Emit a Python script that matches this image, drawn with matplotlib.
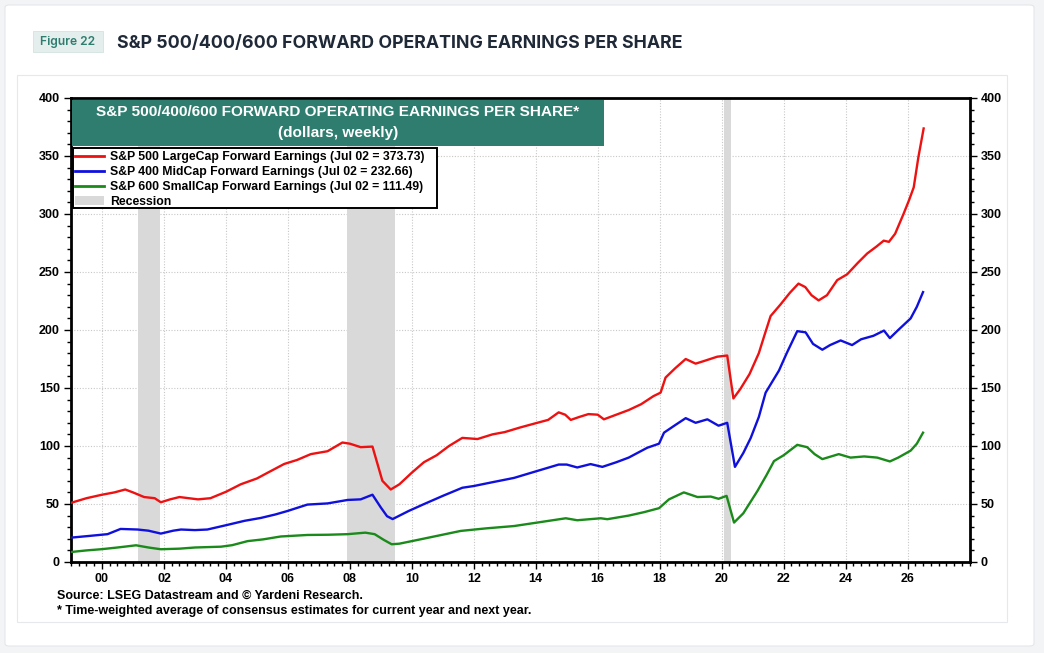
import matplotlib
matplotlib.use('Agg')
import matplotlib.pyplot as plt
from matplotlib.patches import Rectangle, FancyBboxPatch, Patch
from matplotlib.lines import Line2D
from matplotlib.ticker import MultipleLocator, FixedLocator

# S&P 500 LargeCap forward earnings (year, dollars)
sp500_years = [1999.0, 1999.5, 2000.0, 2000.4, 2000.75, 2001.0, 2001.36, 2001.7, 2001.9, 2002.2,
               2002.5, 2002.8, 2003.1, 2003.5, 2004.0, 2004.48, 2005.0, 2005.35, 2005.88, 2006.3,
               2006.74, 2007.28, 2007.76, 2008.0, 2008.35, 2008.73, 2009.05, 2009.32, 2009.6, 2010.0,
               2010.39, 2010.8, 2011.2, 2011.63, 2012.12, 2012.6, 2013.0, 2013.5, 2014.05, 2014.4,
               2014.74, 2014.95, 2015.13, 2015.4, 2015.7, 2016.0, 2016.2, 2016.6, 2017.0, 2017.4,
               2017.8, 2018.03, 2018.19, 2018.5, 2018.84, 2019.16, 2019.4, 2019.86, 2020.18, 2020.38,
               2020.6, 2020.9, 2021.2, 2021.4, 2021.58, 2021.9, 2022.2, 2022.48, 2022.7, 2022.9,
               2023.13, 2023.4, 2023.73, 2024.05, 2024.4, 2024.7, 2025.0, 2025.23, 2025.4, 2025.6,
               2025.87, 2026.05, 2026.2, 2026.35, 2026.52]
sp500_values = [51, 55, 58, 60, 62.5, 60, 56, 55, 51.5, 54,
                56, 55, 54, 55, 60.5, 67, 72, 77, 84.5, 88,
                93, 95.5, 103, 102, 99, 99.5, 70, 62.5, 67, 77,
                86, 92, 100, 107, 106, 110, 112, 116, 120, 122.5,
                129, 127, 122.5, 125, 127.5, 127, 123, 127, 131, 136,
                143, 146, 159, 167, 175, 171, 173, 177, 178, 141,
                149, 162, 180, 197, 212, 222, 232, 240, 237, 230,
                225.5, 230, 243, 248, 258, 266, 272, 277, 276, 283,
                300, 312, 323, 349, 373.73]

# S&P 400 MidCap forward earnings
sp400_years = [1999.0, 1999.6, 2000.18, 2000.6, 2001.15, 2001.5, 2001.9, 2002.3, 2002.55, 2003.0,
               2003.4, 2004.05, 2004.6, 2005.13, 2005.6, 2005.99, 2006.63, 2007.28, 2007.93, 2008.35,
               2008.73, 2009.0, 2009.2, 2009.38, 2009.9, 2010.4, 2011.0, 2011.63, 2012.0, 2012.55,
               2013.3, 2014.05, 2014.74, 2015.0, 2015.34, 2015.77, 2016.15, 2016.6, 2017.0, 2017.6,
               2017.98, 2018.14, 2018.5, 2018.84, 2019.16, 2019.54, 2019.9, 2020.18, 2020.43, 2020.7,
               2020.94, 2021.2, 2021.42, 2021.85, 2022.1, 2022.44, 2022.71, 2022.95, 2023.25, 2023.5,
               2023.84, 2024.21, 2024.5, 2024.9, 2025.24, 2025.43, 2025.7, 2026.1, 2026.3, 2026.5]
sp400_values = [21, 22.5, 24, 28.5, 28, 27, 24.5, 27, 28, 27.5,
                28, 32, 35.5, 38, 41, 44, 49.5, 50.5, 53.5, 54,
                58, 47, 39.5, 37, 44, 50, 57, 64, 65.5, 68.5,
                72.5, 78.5, 84, 84, 81.5, 84.4, 82, 86, 90, 98.5,
                102, 111.5, 118, 124, 120, 123, 117.5, 120, 82, 94,
                107, 125, 146, 165, 180, 199, 198, 188, 183, 187,
                191, 187, 192, 195, 199.5, 193, 200, 210, 220, 232.66]

# S&P 600 SmallCap forward earnings
sp600_years = [1999.0, 1999.5, 1999.97, 2000.5, 2001.1, 2001.5, 2001.9, 2002.5, 2003.0, 2003.84,
               2004.2, 2004.7, 2005.2, 2005.77, 2006.63, 2007.3, 2007.93, 2008.5, 2008.8, 2009.1,
               2009.35, 2009.6, 2010.29, 2010.9, 2011.58, 2012.4, 2013.3, 2014.05, 2014.97, 2015.34,
               2016.1, 2016.31, 2017.0, 2017.5, 2017.98, 2018.3, 2018.78, 2019.22, 2019.65, 2019.9,
               2020.16, 2020.4, 2020.7, 2021.15, 2021.45, 2021.69, 2022.0, 2022.44, 2022.76, 2023.0,
               2023.25, 2023.78, 2024.16, 2024.6, 2025.02, 2025.43, 2025.7, 2026.1, 2026.3, 2026.5]
sp600_values = [8.6, 10, 11, 12.5, 14.4, 12.5, 11, 11.5, 12.5, 13.2,
                14.5, 18, 19.5, 22, 23.3, 23.5, 24, 25.3, 24, 19,
                15.3, 15.8, 19.6, 23, 26.8, 29, 31, 34, 37.7, 36,
                37.7, 36.9, 40, 43, 46.4, 54, 60, 56, 56.4, 54.5,
                57, 34, 42, 61, 75, 87, 92, 101, 99, 93,
                88.7, 93, 90, 91, 90, 86.7, 90, 96, 102, 111.49]

recessions = [(2001.17, 2001.88), (2007.92, 2009.46), (2020.08, 2020.30)]

series_labels = ['S&P 500 LargeCap Forward Earnings (Jul 02 = 373.73)',
                 'S&P 400 MidCap Forward Earnings (Jul 02 = 232.66)',
                 'S&P 600 SmallCap Forward Earnings (Jul 02 = 111.49)']
x_tick_years = list(range(2000, 2027, 2))
x_tick_labels = ['%02d' % (y % 100) for y in x_tick_years]

W, H = 1044, 653
TEAL = '#2e7d6f'
RED, BLUE, GREEN = '#ee1111', '#1010dd', '#1a8a1a'
SANS = ['Liberation Sans', 'DejaVu Sans']


def fx(px):
    return px / W


def fy(py):
    return 1 - py / H


fig = plt.figure(figsize=(W / 100, H / 100), dpi=100, facecolor='#f3f4f6')

# card + inner chart frame
fig.patches.append(FancyBboxPatch((fx(5), fy(646)), fx(1034) - fx(5), fy(5) - fy(646),
                                  boxstyle='round,pad=0,rounding_size=0.004',
                                  transform=fig.transFigure, facecolor='white',
                                  edgecolor='#e4e6ea', linewidth=0.8, zorder=-10))
fig.patches.append(Rectangle((fx(17), fy(622)), fx(1007) - fx(17), fy(75) - fy(622),
                             transform=fig.transFigure, facecolor='white',
                             edgecolor='#e6e8eb', linewidth=0.8, zorder=-9))

# header badge + title
fig.patches.append(Rectangle((fx(33), fy(52)), fx(103) - fx(33), fy(31) - fy(52),
                             transform=fig.transFigure, facecolor='#e4efed',
                             edgecolor='#d3e3e0', linewidth=0.6, zorder=-8))
fig.text(fx(68), fy(41.5), 'Figure 22', ha='center', va='center', fontsize=8.7,
         color=TEAL, family='Inter', fontweight='semibold')
fig.text(fx(117), fy(43.5), 'S&P 500/400/600 FORWARD OPERATING EARNINGS PER SHARE',
         ha='left', va='center', fontsize=12.8, color='#1f2937', family='Inter',
         fontweight='bold')

ax = fig.add_axes([fx(71), fy(562), fx(969.5) - fx(71), fy(98) - fy(562)])

for start, end in recessions:
    ax.axvspan(start, end, color='#d9d9d9', lw=0, zorder=1)

ax.plot(sp500_years, sp500_values, color=RED, lw=1.7, zorder=4)
ax.plot(sp400_years, sp400_values, color=BLUE, lw=1.7, zorder=4)
ax.plot(sp600_years, sp600_values, color=GREEN, lw=1.7, zorder=4)

ax.set_xlim(1999, 2028)
ax.set_ylim(0, 400)

ax.xaxis.set_major_locator(FixedLocator(x_tick_years))
ax.set_xticklabels(x_tick_labels)
ax.xaxis.set_minor_locator(MultipleLocator(0.25))
ax.yaxis.set_major_locator(MultipleLocator(50))
ax.yaxis.set_minor_locator(MultipleLocator(10))

ax.grid(True, which='major', color='#c8c8c8', linestyle=(0, (1, 1.5)), linewidth=0.8, zorder=0)
ax.set_axisbelow(True)

for side in ['left', 'right', 'top', 'bottom']:
    ax.spines[side].set_linewidth(2.0)
    ax.spines[side].set_color('black')

ax.tick_params(axis='y', which='both', left=True, right=True, labelleft=True, labelright=True,
               direction='out', width=1.0, color='black')
ax.tick_params(axis='y', which='major', length=5, pad=3)
ax.tick_params(axis='y', which='minor', length=3)
ax.tick_params(axis='x', which='both', direction='out', width=1.0, top=False)
ax.tick_params(axis='x', which='major', length=5, pad=3)
ax.tick_params(axis='x', which='minor', length=3)

for t in ax.xaxis.get_major_ticks() + ax.yaxis.get_major_ticks():
    for lbl in (t.label1, t.label2):
        lbl.set_family(SANS)
        lbl.set_fontweight('bold')
        lbl.set_fontsize(9)

# chart title box
ax.add_patch(Rectangle((fx(72), fy(146)), fx(604) - fx(72), fy(100) - fy(146),
                       transform=fig.transFigure, facecolor=TEAL, edgecolor='none',
                       zorder=6, clip_on=False))
ax.text(fx(338), fy(112), 'S&P 500/400/600 FORWARD OPERATING EARNINGS PER SHARE*',
        transform=fig.transFigure, ha='center', va='center', color='white',
        fontsize=11.1, fontweight='bold', family=SANS, zorder=7)
ax.text(fx(338), fy(133), '(dollars, weekly)', transform=fig.transFigure, ha='center',
        va='center', color='white', fontsize=11.1, fontweight='bold', family=SANS, zorder=7)

# legend box drawn by hand so it keeps the wide right margin of the original
ax.add_patch(Rectangle((fx(73), fy(208)), fx(437) - fx(73), fy(148) - fy(208),
                       transform=fig.transFigure, facecolor='white', edgecolor='black',
                       linewidth=1.4, zorder=7, clip_on=False))
handles = [Line2D([], [], color=RED, lw=2),
           Line2D([], [], color=BLUE, lw=2),
           Line2D([], [], color=GREEN, lw=2),
           Patch(facecolor='#d9d9d9', edgecolor='none')]
leg = ax.legend(handles, series_labels + ['Recession'], loc='upper left',
                bbox_to_anchor=(fx(73), fy(149)), bbox_transform=fig.transFigure,
                prop={'family': SANS, 'weight': 'bold', 'size': 8.8},
                frameon=False, borderpad=0.2, labelspacing=0.22, handlelength=2.3,
                handletextpad=0.5, borderaxespad=0)
leg.set_zorder(8)

fig.text(fx(57), fy(596), 'Source: LSEG Datastream and \u00a9 Yardeni Research.', ha='left',
         va='center', fontsize=9, fontweight='bold', family=SANS, color='black')
fig.text(fx(57), fy(611), '* Time-weighted average of consensus estimates for current year and next year.',
         ha='left', va='center', fontsize=9, fontweight='bold', family=SANS, color='black')

fig.savefig('out.png', dpi=100, facecolor=fig.get_facecolor())
